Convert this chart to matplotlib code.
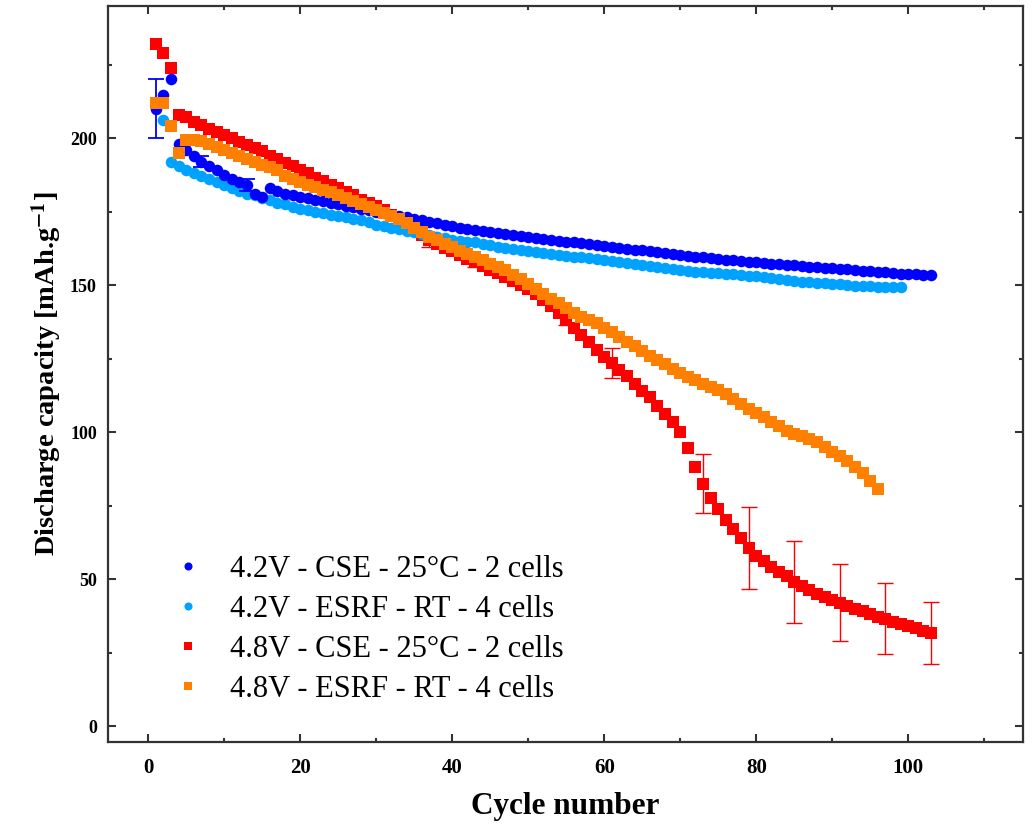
import matplotlib
matplotlib.use('Agg')
import matplotlib.pyplot as plt
from matplotlib.ticker import MultipleLocator

plt.rcParams['font.family'] = ['Liberation Serif', 'DejaVu Serif']
plt.rcParams['mathtext.fontset'] = 'stix'

# 4.2V - CSE - 25°C - 2 cells (cycles 1..103)
blue_cse = [210, 214.5, 220, 198, 196, 194, 192, 190.5, 189, 187.5,
            186, 185, 184, 181, 180, 183, 182, 181, 180.5, 180,
            179.5, 179, 178.5, 178, 177.5, 177, 176.5, 176, 175.5, 175,
            174.5, 174, 173.5, 173, 172.5, 172, 171.5, 171, 170.5, 170,
            169.5, 169, 168.8, 168.4, 168, 167.6, 167.3, 167, 166.7, 166.4,
            166, 165.7, 165.4, 165.1, 164.8, 164.5, 164.2, 163.9, 163.6, 163.3,
            163, 162.7, 162.4, 162.1, 161.8, 161.5, 161.2, 160.9, 160.6, 160.3,
            160, 159.7, 159.4, 159.1, 158.8, 158.6, 158.4, 158.2, 158, 157.7,
            157.5, 157.3, 157.1, 156.9, 156.7, 156.5, 156.3, 156.1, 155.9, 155.7,
            155.5, 155.3, 155.1, 154.9, 154.7, 154.5, 154.3, 154.1, 153.9, 153.7,
            153.6, 153.5, 153.4]
blue_err_cycles = [1, 7, 13]
blue_err = [10, 2, 2]

# 4.2V - ESRF - RT - 4 cells (cycles 1..99)
lblue_esrf = [211, 206, 192, 190.5, 189, 188, 187, 186, 185, 184,
              183, 182, 181, 180.5, 179.5, 179, 178, 177.5, 176.5, 176,
              175.5, 175, 174.5, 174, 173.5, 173, 172.5, 172, 171.5, 170.5,
              170, 169.5, 169, 168.5, 168, 167.5, 167, 166.5, 166, 165.5,
              165, 164.8, 164.5, 164, 163.5, 163, 162.7, 162.3, 162, 161.6,
              161.2, 160.9, 160.6, 160.3, 160, 159.7, 159.4, 159.1, 158.8, 158.5,
              158.2, 157.9, 157.6, 157.3, 157, 156.6, 156.2, 155.8, 155.5, 155.2,
              154.9, 154.6, 154.4, 154.2, 154, 153.8, 153.6, 153.4, 153.2, 153,
              152.7, 152.4, 152.1, 151.8, 151.5, 151.2, 151, 150.8, 150.6, 150.4,
              150.2, 150, 149.8, 149.7, 149.6, 149.5, 149.4, 149.3, 149.2]

# 4.8V - CSE - 25°C - 2 cells (cycles 1..103)
red_cse = [232, 229, 224, 208, 207, 205.5, 204.5, 203, 202, 201,
           200, 198.5, 197.5, 196.5, 195.5, 194, 193, 191.5, 190.5, 189,
           188, 186.5, 185.5, 184, 183, 181.5, 180.5, 179, 178, 177,
           175.5, 174, 172.5, 170.5, 169, 167, 165.5, 164, 162.5, 161.5,
           160.3, 159, 157.8, 156.5, 155.2, 154, 152.7, 151.3, 150, 148.5,
           147, 145, 143, 140.5, 138, 135.5, 133, 130.5, 128, 125.5,
           123.5, 121, 119, 116.5, 114, 112, 109, 106, 103.5, 100,
           94.5, 88, 82.5, 77.5, 74, 70, 67, 64, 60.5, 58,
           56, 54, 52.5, 51, 49, 47.5, 46.3, 45, 44, 43,
           42, 40.8, 39.8, 39, 38, 37.2, 36.5, 35.5, 34.8, 34,
           33.2, 32.4, 31.6]
red_err_cycles = [37, 43, 55, 61, 73, 79, 85, 91, 97, 103]
red_err = [2.5, 1.5, 1.5, 5, 10, 14, 14, 13, 12, 10.6]

# 4.8V - ESRF - RT - 4 cells (cycles 1..96)
orange_esrf = [212, 212, 204, 195, 199.5, 199.5, 199, 198, 197, 196,
               195, 194, 193, 192, 191, 190, 189, 187, 186, 185,
               184, 183.2, 182.3, 181.5, 180.5, 179.5, 178.5, 177.5, 176.5, 175.5,
               174.5, 173.5, 172.5, 171, 169.5, 168, 166.5, 165.2, 164, 162.8,
               161.5, 160.5, 159.5, 158.5, 157.3, 156.2, 155, 153.5, 152, 150.3,
               148.5, 147, 145.3, 143.8, 142.2, 140.6, 139, 138, 137, 135.5,
               134, 132.3, 130.8, 129.2, 127.6, 126, 124.5, 123, 121.5, 120,
               118.8, 117.6, 116.5, 115.3, 114.2, 113, 111.2, 109.5, 108, 106.5,
               105, 103.3, 102, 100.5, 99.5, 98.5, 97.7, 96.5, 95, 93.3,
               91.8, 90, 88, 86, 83.5, 80.8]

labels = ['4.2V - CSE - 25°C - 2 cells', '4.2V - ESRF - RT - 4 cells',
          '4.8V - CSE - 25°C - 2 cells', '4.8V - ESRF - RT - 4 cells']
colors = ['#0000FF', '#00A2FF', '#FF0000', '#FF8000']

def cycles(values):
    return list(range(1, len(values) + 1))

fig = plt.figure(figsize=(10.33, 8.25), dpi=100)
ax = fig.add_axes([0.1045, 0.101, 0.8858, 0.892])

# red first, orange last (orange sits on top)
h_red, = ax.plot(cycles(red_cse), red_cse, 's', color=colors[2], ms=8.3, mew=0, zorder=2)
ax.errorbar(red_err_cycles, [red_cse[c - 1] for c in red_err_cycles], yerr=red_err,
            fmt='none', ecolor=colors[2], elinewidth=1, capsize=6, capthick=1, zorder=2)
h_lblue, = ax.plot(cycles(lblue_esrf), lblue_esrf, 'o', color=colors[1], ms=8.3, mew=0, zorder=3)
h_blue, = ax.plot(cycles(blue_cse), blue_cse, 'o', color=colors[0], ms=8.3, mew=0, zorder=4)
ax.errorbar(blue_err_cycles, [blue_cse[c - 1] for c in blue_err_cycles], yerr=blue_err,
            fmt='none', ecolor=colors[0], elinewidth=1.3, capsize=6, capthick=1.3, zorder=4)
h_orange, = ax.plot(cycles(orange_esrf), orange_esrf, 's', color=colors[3], ms=8.3, mew=0, zorder=5)

ax.set_xlim(-5.3, 115.1)
ax.set_ylim(-5.3, 245)
ax.xaxis.set_major_locator(MultipleLocator(20))
ax.xaxis.set_minor_locator(MultipleLocator(10))
ax.yaxis.set_major_locator(MultipleLocator(50))
ax.yaxis.set_minor_locator(MultipleLocator(25))
ax.tick_params(which='both', direction='in', top=True, right=True, width=1.5, color='#333333')
ax.tick_params(which='major', length=6)
ax.tick_params(which='minor', length=3)
ax.tick_params(axis='x', labelsize=15, pad=12)
ax.tick_params(axis='y', labelsize=13, pad=8)
for lab in ax.get_xticklabels() + ax.get_yticklabels():
    lab.set_fontweight('bold')
for s in ax.spines.values():
    s.set_linewidth(1.6)
    s.set_color('#333333')

ax.set_xlabel('Cycle number', fontsize=22.5, fontweight='bold', labelpad=10)
ax.set_ylabel(r'Discharge capacity [mAh.g$^{\mathbf{-1}}$]', fontsize=20.5,
              fontweight='bold', labelpad=4)

ax.legend([h_blue, h_lblue, h_red, h_orange], labels, loc='upper left',
          bbox_to_anchor=(0.0707, 0.254), frameon=False, fontsize=22,
          markerscale=0.7, handlelength=1.0, handletextpad=0.87,
          labelspacing=0.36, borderaxespad=0, borderpad=0)

plt.savefig('out.png', dpi=100)
